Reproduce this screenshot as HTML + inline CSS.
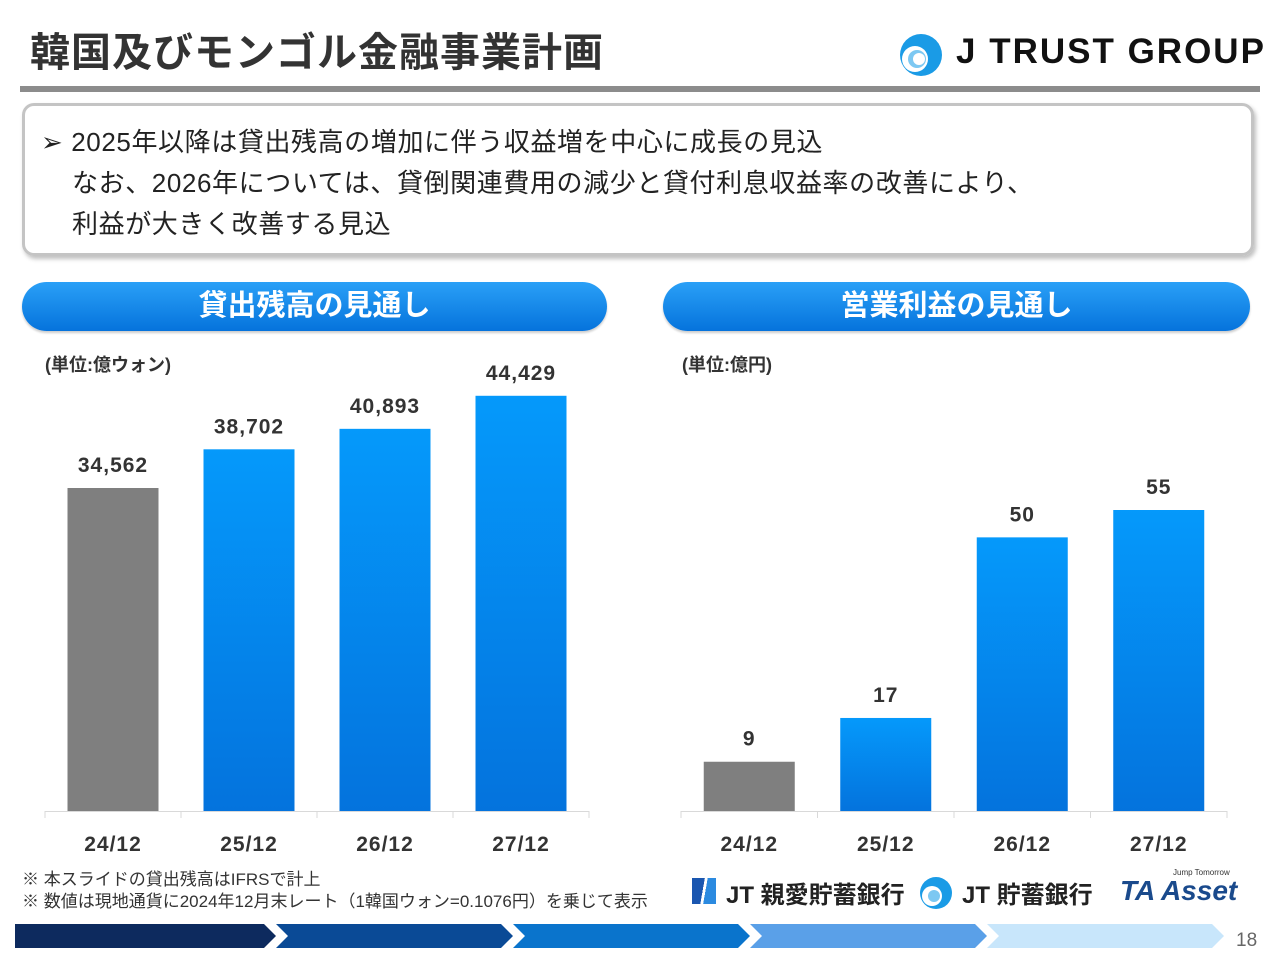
<!DOCTYPE html>
<html><head><meta charset="utf-8"><style>
body{margin:0;width:1280px;height:960px;background:#fff;position:relative;overflow:hidden;font-family:"Liberation Sans","Noto Sans CJK JP",sans-serif}
.abs{position:absolute}
.pill{position:absolute;height:49px;border-radius:25px;background:linear-gradient(#2aa0f7,#0573dc);color:#fff;font-weight:bold;font-size:29px;text-align:center;line-height:49px;box-shadow:0 2px 2px rgba(0,0,0,.2)}
</style></head><body>
<div class="abs" style="left:30px;top:20px;font-size:40px;letter-spacing:1px;font-weight:bold;color:#333">韓国及びモンゴル金融事業計画</div>
<div class="abs" style="left:896px;top:32px;width:380px;height:46px">
<svg width="50" height="46" style="position:absolute;left:0;top:0"><circle cx="25" cy="23" r="21" fill="#1a9be6"/><circle cx="19" cy="27" r="13" fill="#fff"/><circle cx="21" cy="27" r="9" fill="#7cc8f2"/><circle cx="23" cy="27" r="6" fill="#fff"/></svg>
<span style="position:absolute;left:60px;top:0px;font-size:35px;font-weight:bold;letter-spacing:2px;color:#111">J TRUST GROUP</span></div>
<div class="abs" style="left:20px;top:86px;width:1240px;height:6px;background:#8c8c8c"></div>
<div class="abs" style="left:22px;top:103px;width:1226px;height:147px;border:3px solid #c4c4c4;border-radius:12px;box-shadow:2px 3px 4px rgba(0,0,0,.25);font-size:26px;letter-spacing:0.6px;color:#222;line-height:41px">
<div style="position:absolute;left:16px;top:16px">➢ 2025年以降は貸出残高の増加に伴う収益増を中心に成長の見込</div>
<div style="position:absolute;left:47px;top:57px">なお、2026年については、貸倒関連費用の減少と貸付利息収益率の改善により、</div>
<div style="position:absolute;left:47px;top:98px">利益が大きく改善する見込</div></div>
<div class="pill" style="left:22px;top:282px;width:585px">貸出残高の見通し</div>
<div class="pill" style="left:663px;top:282px;width:587px">営業利益の見通し</div>
<svg id="chart" class="abs" style="left:0;top:0" width="1280" height="960">
<defs><linearGradient id="bg" x1="0" y1="0" x2="0" y2="1"><stop offset="0" stop-color="#0599fb"/><stop offset="1" stop-color="#0473dd"/></linearGradient></defs>
<text x="45" y="371" font-size="18" font-weight="bold" fill="#333" font-family="Liberation Sans,Noto Sans CJK JP,sans-serif">(単位:億ウォン)</text>
<text x="682" y="371" font-size="18" font-weight="bold" fill="#333" font-family="Liberation Sans,Noto Sans CJK JP,sans-serif">(単位:億円)</text>
<g id="g"></g></svg>
<div class="abs" style="left:22px;top:869px;font-size:17px;color:#333;line-height:22px">※ 本スライドの貸出残高はIFRSで計上<br>※ 数値は現地通貨に2024年12月末レート（1韓国ウォン=0.1076円）を乗じて表示</div>
<div class="abs" style="left:690px;top:872px;width:560px;height:44px;font-weight:bold;font-size:24px;color:#222">
<span style="position:absolute;left:2px;top:6px;width:24px;height:26px;background:linear-gradient(100deg,#1a56b0 45%,#fff 45%,#fff 55%,#2b8ae0 55%)"></span>
<span style="position:absolute;left:36px;top:3px">JT 親愛貯蓄銀行</span>
<svg width="36" height="36" style="position:absolute;left:228px;top:3px"><circle cx="18" cy="18" r="16" fill="#1a9be6"/><circle cx="14" cy="21" r="10" fill="#fff"/><circle cx="16" cy="21" r="6" fill="#7cc8f2"/></svg>
<span style="position:absolute;left:272px;top:3px">JT 貯蓄銀行</span>
<span style="position:absolute;left:430px;top:3px;font-style:italic;font-size:28px;color:#1a4a8c">TA Asset</span>
<span style="position:absolute;left:483px;top:-4px;font-size:8px;color:#333;font-weight:normal">Jump Tomorrow</span></div>
<svg class="abs" style="left:0;top:920px" width="1280" height="32">
<polygon points="15,4 264,4 276,16 264,28 15,28" fill="#0d2a5e"/>
<polygon points="276,4 501,4 513,16 501,28 276,28 288,16" fill="#0a4a96"/>
<polygon points="513,4 738,4 750,16 738,28 513,28 525,16" fill="#0a74cc"/>
<polygon points="750,4 975,4 987,16 975,28 750,28 762,16" fill="#5aa0e8"/>
<polygon points="987,4 1212,4 1224,16 1212,28 987,28 999,16" fill="#c8e6fb"/>
<text x="1236" y="26" font-size="19" fill="#666" font-family="Liberation Sans,sans-serif">18</text></svg>
<script>
const categories=["24/12","25/12","26/12","27/12"];
const loanValues=[34562,38702,40893,44429];
const loanLabels=["34,562","38,702","40,893","44,429"];
const profitValues=[9,17,50,55];
const profitLabels=["9","17","50","55"];
const g=document.getElementById('g');const NS="http://www.w3.org/2000/svg";
function mk(t,a){const e=document.createElementNS(NS,t);for(const k in a)e.setAttribute(k,a[k]);g.appendChild(e);return e;}
function chart(x0,x1,scale,vals,labels,prefix){
 const base=811,step=(x1-x0)/categories.length,bw=91;
 const ax=mk('line',{x1:x0,x2:x1,y1:base+0.5,y2:base+0.5,stroke:'#d9d9d9','stroke-width':1});
 
 for(let i=0;i<=categories.length;i++){const t=mk('line',{x1:x0+i*step,x2:x0+i*step,y1:base,y2:base+7,stroke:'#d9d9d9'});
  }
 vals.forEach((v,i)=>{const cx=x0+step*(i+0.5),h=v*scale;
  const r=mk('rect',{x:cx-bw/2,y:base-h,width:bw,height:h,fill:i==0?'#7f7f7f':'url(#bg)'});
  
  const l=mk('text',{x:cx,y:base-h-16,'text-anchor':'middle','font-size':21,'font-weight':'bold',fill:'#333','font-family':'Liberation Sans,sans-serif','letter-spacing':'1'});l.textContent=labels[i];
  
  const c=mk('text',{x:cx,y:851,'text-anchor':'middle','font-size':21,'font-weight':'bold',fill:'#333','font-family':'Liberation Sans,sans-serif','letter-spacing':'1'});c.textContent=categories[i];
  });
}
chart(45,589,323/34562,loanValues,loanLabels,'loan');
chart(681,1227,301/55,profitValues,profitLabels,'profit');
</script></body></html>
